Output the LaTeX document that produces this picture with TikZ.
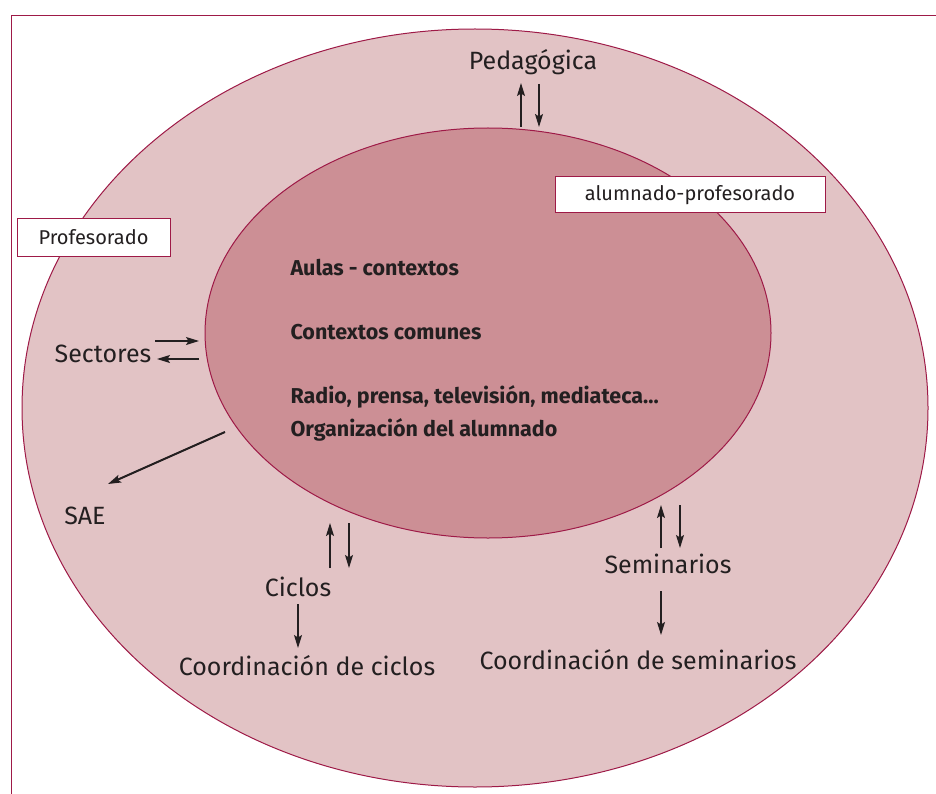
\documentclass[tikz,border=0pt]{standalone}
\usepackage{fontspec}
\setmainfont{Fira Sans}
\usepackage{tikz}
\usetikzlibrary{shapes,arrows.meta,positioning}
\definecolor{rim}{HTML}{9E1A47}
\definecolor{outerpink}{HTML}{E2C3C5}
\definecolor{innerpink}{HTML}{CC8F95}
\definecolor{ink}{HTML}{231F20}

\begin{document}
\begin{tikzpicture}[x=1pt, y=-1pt, >={Stealth[length=13pt,width=8pt,inset=2.5pt]},
  font=\fontsize{25}{28}\selectfont, text=ink]
\tikzset{%
  ring/.style = {%
    draw = rim,
    ellipse,
    line width = 1pt,
    inner sep = 0pt},
  tag/.style = {%
    draw = rim,
    fill = white,
    line width = 1pt,
    inner sep = 0pt,
    font = \fontsize{20}{24}\selectfont},
  topic/.style = {%
    anchor = west,
    font = \fontsize{21.5}{24}\selectfont\bfseries},
  flow/.style = {->, line width=1.2pt, draw=ink}
}
  \useasboundingbox (0,0) rectangle (936,794);
  \draw[rim, line width=1pt] (11,794) -- (11,16) -- (936,16);

  \node[ring, fill=outerpink, minimum width=906pt, minimum height=758pt]
    (outer) at (475,408) {};
  \node[ring, fill=innerpink, minimum width=566pt, minimum height=410pt]
    (inner) at (488,333) {};

  \node[tag, minimum width=153pt, minimum height=37pt]
    (prof) at (93.5,237.5) {Profesorado};
  \node[tag, minimum width=270pt, minimum height=36pt]
    (alum) at (690,195) {alumnado-profesorado};

  \node[topic] (aulas) at (287,268) {Aulas - contextos};
  \node[topic] (comunes) at (287,332) {Contextos comunes};
  \node[topic] (radio) at (287,397) {Radio, prensa, televisión, mediateca...};
  \node[topic] (organiza) at (287,430) {Organización del alumnado};

  \node (ped) at (533,62) {Pedagógica};
  \node (sect) at (103,354) {Sectores};
  \node (sae) at (85,516) {SAE};
  \node (ciclos) at (298,587) {Ciclos};
  \node[node distance=79pt, below of=ciclos, xshift=9pt]
    (coordciclos) {Coordinación de ciclos};
  \node (semin) at (668,564) {Seminarios};
  \node[node distance=96pt, below of=semin, xshift=-30pt]
    (coordsemin) {Coordinación de seminarios};

  \coordinate (pedin) at (521,127);  \coordinate (pedup) at (521,83);
  \coordinate (pedtop) at (539,84);  \coordinate (pedlow) at (539,127);
  \coordinate (sectout) at (155,341); \coordinate (sectin) at (199,341);
  \coordinate (sectfrom) at (199,359); \coordinate (sectto) at (157,359);
  \coordinate (saefrom) at (225,432); \coordinate (saeto) at (108,484);
  \coordinate (cicin) at (330,568);  \coordinate (cicup) at (330,523);
  \coordinate (cictop) at (349,523); \coordinate (ciclow) at (349,568);
  \coordinate (cicfrom) at (298,604); \coordinate (cicto) at (298,648);
  \coordinate (semin1) at (661,548); \coordinate (semup) at (661,505);
  \coordinate (semtop) at (680,505); \coordinate (semlow) at (680,548);
  \coordinate (semfrom) at (661,591); \coordinate (semto) at (661,635);

  \draw[flow] (pedin) -- (pedup);
  \draw[flow] (pedtop) -- (pedlow);
  \draw[flow] (sectout) -- (sectin);
  \draw[flow] (sectfrom) -- (sectto);
  \draw[flow, line width=2pt] (saefrom) -- (saeto);
  \draw[flow] (cicin) -- (cicup);
  \draw[flow] (cictop) -- (ciclow);
  \draw[flow] (cicfrom) -- (cicto);
  \draw[flow] (semin1) -- (semup);
  \draw[flow] (semtop) -- (semlow);
  \draw[flow] (semfrom) -- (semto);
\end{tikzpicture}
\end{document}
